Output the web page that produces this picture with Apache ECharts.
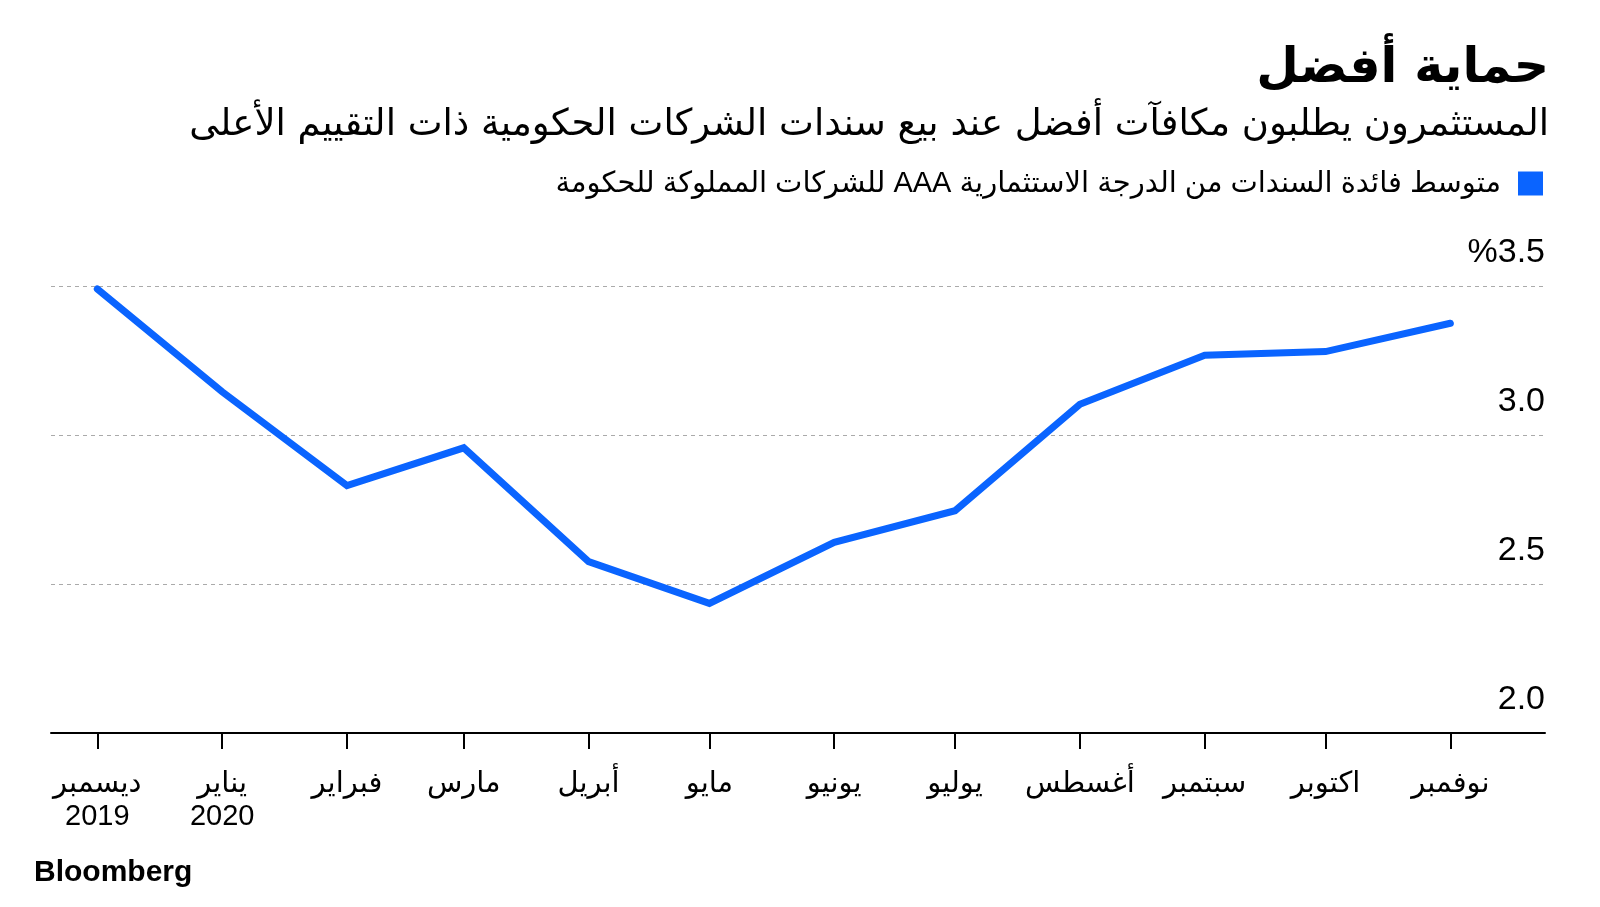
<!DOCTYPE html>
<html>
<head>
<meta charset="utf-8">
<script src="https://cdn.jsdelivr.net/npm/echarts@6/dist/echarts.min.js"></script>
<style>
html,body{margin:0;padding:0;background:#fff;}
#chart{width:1600px;height:907px;}
</style>
</head>
<body>
<div id="chart"></div>
<script>
// ---- data ----
const dates = ['2019-12-01','2020-01-01','2020-02-01','2020-03-01','2020-04-01','2020-05-01',
               '2020-06-01','2020-07-01','2020-08-01','2020-09-01','2020-10-01','2020-11-01'];
const yields = [3.49, 3.145, 2.83, 2.957, 2.575, 2.435, 2.64, 2.746, 3.103, 3.268, 3.28, 3.375];
const monthLabels = ['ديسمبر\n2019','يناير\n2020','فبراير','مارس','أبريل','مايو',
                     'يونيو','يوليو','أغسطس','سبتمبر','اكتوبر','نوفمبر'];
const yTicks = [2.0, 2.5, 3.0, 3.5];
const yTickLabels = ['2.0','2.5','3.0','%3.5'];
const seriesName = 'متوسط فائدة السندات من الدرجة الاستثمارية AAA للشركات المملوكة للحكومة';
const titleText = 'حماية أفضل';
const subtitleText = 'المستثمرون يطلبون مكافآت أفضل عند بيع سندات الشركات الحكومية ذات التقييم الأعلى';

// day index of each date (days since 2019-12-01)
const DAY = 86400000;
const t0 = Date.UTC(2019, 11, 1);
const xs = dates.map(d => Math.round((new Date(d + 'T00:00:00Z').getTime() - t0) / DAY));
const arFont = '"Liberation Sans", "DejaVu Sans", sans-serif';
const numFont = '"Liberation Sans", Arial, sans-serif';
const rtl = s => '\u202B' + s + '\u202C';

const chart = echarts.init(document.getElementById('chart'), null, {renderer: 'canvas'});
chart.setOption({
  backgroundColor: '#ffffff',
  animation: false,
  legend: {
    right: 52, top: 164,
    align: 'right',
    icon: 'rect', itemWidth: 25, itemHeight: 24, itemGap: 12,
    textStyle: {fontFamily: arFont, fontSize: 29, color: '#000', padding: [0, 12, 0, 0]},
    formatter: function (n) { return rtl(n); },
    data: [seriesName]
  },
  grid: {left: 51, right: 55, top: 286, bottom: 174, containLabel: false},
  xAxis: {
    type: 'value',
    min: xs[0] - 11.5,
    max: xs[xs.length - 1] + 23.5,
    axisLine: {show: true, onZero: false, lineStyle: {color: '#000', width: 2}},
    axisTick: {show: true, length: 16, lineStyle: {color: '#000', width: 2}, customValues: xs},
    axisLabel: {
      customValues: xs,
      margin: 34,
      fontFamily: arFont, fontSize: 29, color: '#000', lineHeight: 33,
      formatter: function (v) {
        const i = xs.indexOf(Math.round(v));
        return i >= 0 ? monthLabels[i] : '';
      }
    },
    splitLine: {show: false}
  },
  yAxis: {
    type: 'value',
    position: 'right',
    min: 2, max: 3.5, interval: 0.5,
    axisLine: {show: false},
    axisTick: {show: false},
    axisLabel: {
      inside: true, margin: 0, align: 'right', verticalAlign: 'bottom',
      padding: [0, 0, 16, 0],
      fontFamily: numFont, fontSize: 34, color: '#000',
      formatter: function (v) {
        const i = yTicks.findIndex(t => Math.abs(t - v) < 1e-9);
        return i >= 0 ? yTickLabels[i] : '';
      }
    },
    splitLine: {show: true, lineStyle: {color: '#aaaaaa', type: [4, 4], width: 1}}
  },
  series: [{
    name: seriesName,
    type: 'line',
    data: xs.map((x, i) => [x, yields[i]]),
    showSymbol: false,
    symbol: 'none',
    lineStyle: {color: '#0a64ff', width: 7, cap: 'round', join: 'miter'},
    itemStyle: {color: '#0a64ff'}
  }],
  graphic: [
    {
      type: 'text', right: 51, top: 45,
      style: {text: rtl(titleText), font: 'bold 49px "DejaVu Sans", sans-serif', fill: '#000'}
    },
    {
      type: 'text', right: 51, top: 107,
      style: {text: rtl(subtitleText), font: '37px "DejaVu Sans", sans-serif', fill: '#000'}
    },
    {
      type: 'text', left: 34, top: 858,
      style: {text: 'Bloomberg', font: 'bold 30px "Liberation Sans Narrow", "Liberation Sans", Arial, sans-serif', fill: '#000'}
    }
  ]
});
</script>
</body>
</html>
